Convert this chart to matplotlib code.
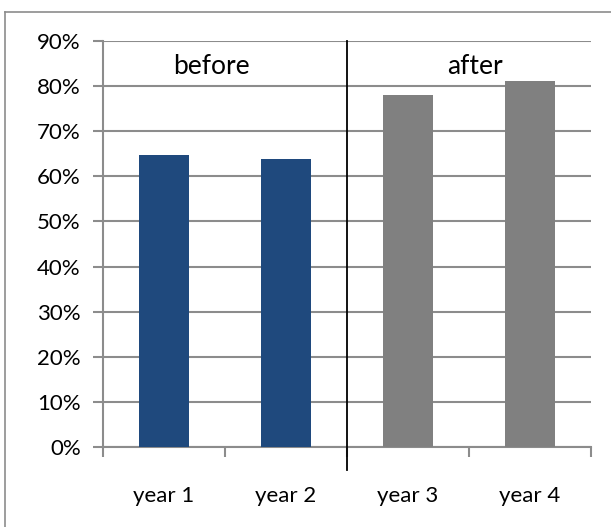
import numpy as np
import matplotlib.pyplot as plt
from matplotlib.lines import Line2D

plt.rcParams['font.family'] = ['Lato', 'DejaVu Sans']

# data
categories = ["year 1", "year 2", "year 3", "year 4"]
values = [64.7, 63.8, 78.0, 81.1]
bar_colors = ["#1F497D", "#1F497D", "#808080", "#808080"]
period_labels = ["before", "after"]
y_ticks = list(range(0, 100, 10))

fig = plt.figure(figsize=(6.11, 5.27), dpi=100)
ax = fig.add_axes([103 / 611, 80 / 527, 488 / 611, 406 / 527])

x = np.arange(len(categories))
ax.bar(x, values, width=0.41, color=bar_colors, zorder=3)

ax.set_xlim(-0.5, len(categories) - 0.5)
ax.set_ylim(0, 90)
ax.set_yticks(y_ticks)
ax.set_yticklabels([f"{t}%" for t in y_ticks], fontsize=16)
ax.yaxis.grid(True, color="#8c8c8c", linewidth=1.5, zorder=0)

# category boundaries as major ticks, labels on minor ticks
ax.set_xticks(np.arange(-0.5, len(categories), 1.0))
ax.set_xticklabels([])
ax.set_xticks(x, minor=True)
ax.set_xticklabels(categories, minor=True, fontsize=16)
ax.tick_params(axis="x", which="minor", length=0, pad=28)
ax.tick_params(axis="x", which="major", length=7, width=1.5, color="#8c8c8c", direction="out")
ax.tick_params(axis="y", length=7, width=1.5, color="#8c8c8c", pad=9)

for s in ["top", "right"]:
    ax.spines[s].set_visible(False)
for s in ["left", "bottom"]:
    ax.spines[s].set_color("#8c8c8c")
    ax.spines[s].set_linewidth(1.5)

# before / after divider
ax.plot([1.5, 1.5], [-5, 90], color="black", linewidth=1.3, clip_on=False, zorder=4)
ax.text(0.39, 84.3, period_labels[0], ha="center", va="center", fontsize=19)
ax.text(2.55, 84.3, period_labels[1], ha="center", va="center", fontsize=19)

# outer chart border (only top and left show, the rest is cut off)
fig.add_artist(Line2D([5 / 611, 5 / 611], [0, 515 / 527], transform=fig.transFigure,
                      color="#8c8c8c", linewidth=1.2))
fig.add_artist(Line2D([5 / 611, 1], [515 / 527, 515 / 527], transform=fig.transFigure,
                      color="#8c8c8c", linewidth=1.2))

fig.savefig("out.png", dpi=100)
